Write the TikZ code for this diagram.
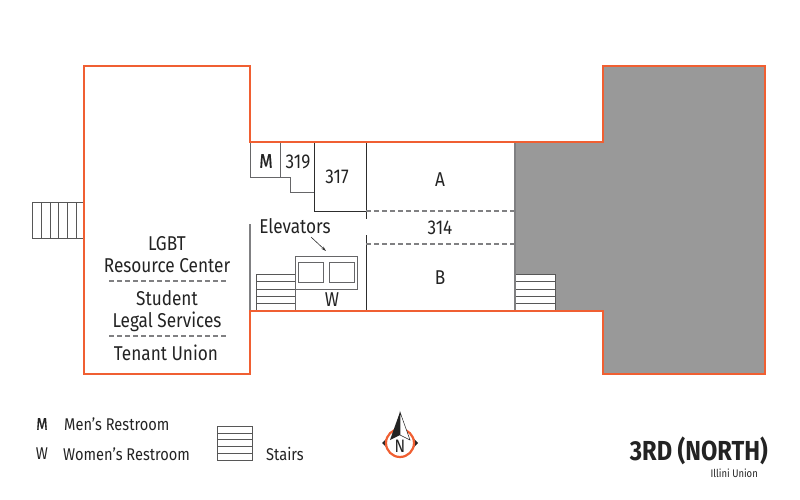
\documentclass[tikz,border=0pt]{standalone}
\usepackage{fontspec}
\setmainfont[FakeStretch=0.86]{Fira Sans}
\newfontfamily\semifont[FakeStretch=0.86,FakeBold=0.6]{Fira Sans}
\usetikzlibrary{arrows.meta}
\definecolor{WallOrange}{RGB}{240,95,50}
\definecolor{WallGrey}{RGB}{128,128,130}
\definecolor{BlockGrey}{RGB}{153,153,153}
\definecolor{RoomLine}{RGB}{45,45,45}
\definecolor{InkDark}{RGB}{35,35,35}
\tikzset{
  outerwall/.style={draw=WallOrange, line width=2.2pt, line join=miter},
  greywall/.style={draw=WallGrey, line width=1.5pt},
  roomline/.style={draw=RoomLine, line width=0.9pt},
  thinroom/.style={draw=WallGrey!80!black, line width=1pt},
  dashline/.style={draw=WallGrey, line width=1.2pt, dash pattern=on 4.5pt off 3.5pt},
  stairline/.style={draw=RoomLine!80!white, line width=0.9pt},
  label/.style={inner sep=0pt, text=InkDark, font=\fontsize{20}{20}\selectfont},
  legendtext/.style={inner sep=0pt, text=InkDark, font=\fontsize{17}{17}\selectfont},
}
\begin{document}
\begin{tikzpicture}[x=1pt, y=-1pt]
    \useasboundingbox (0,0) rectangle (800,500);
    % grey block
    \fill[BlockGrey] (515,142) -- (603,142) -- (603,66) -- (765,66) -- (765,374) -- (603,374) -- (603,311) -- (515,311) -- cycle;
    \draw[greywall] (515,142) -- (515,274);
    % stairs
    \fill[white] (515,274) rectangle (555,311);
    \foreach \y in {274,281.5,289,296,303} {
        \draw[stairline] (515,\y) -- (555,\y);
        \draw[stairline] (256,\y) -- (295,\y);
    }
    \draw[stairline] (256,274) -- (256,311);
    \draw[stairline] (555,274) -- (555,311);
    \draw[greywall] (515,274) -- (515,311);
    \draw[stairline] (32,202) rectangle (84,238);
    \foreach \x in {41,50,58.5,67,76} {
        \draw[stairline] (\x,202) -- (\x,238);
    }
    % rooms
    \draw[thinroom] (250,142) -- (250,177) -- (290,177) -- (290,192) -- (314,192);
    \draw[thinroom] (280,142) -- (280,177);
    \draw[roomline] (314,142) -- (314,211) -- (366,211);
    \draw[roomline] (366,142) -- (366,219);
    \draw[roomline] (366,235) -- (366,311);
    \draw[dashline] (366,211) -- (515,211);
    \draw[dashline] (366,244) -- (515,244);
    \draw[thinroom] (295,256) rectangle (357,289);
    \draw[thinroom] (298,262) rectangle (323,282);
    \draw[thinroom] (329,262) rectangle (354,282);
    \draw[thinroom] (295,289) -- (295,311);
    \draw[dashline] (109,281) -- (226,281);
    \draw[dashline] (109,336) -- (226,336);
    % walls
    \draw[greywall] (250,224) -- (250,311);
    \draw[outerwall] (250,142) -- (250,66) -- (84,66) -- (84,374) -- (250,374) -- (250,311) -- (603,311) -- (603,374) -- (765,374) -- (765,66) -- (603,66) -- (603,142) -- cycle;
    % room names
    \node[label, font=\fontsize{20}{20}\selectfont\semifont] (m) at (266,161) {M};
    \node[label] (r319) at (298,162) {319};
    \node[label] (r317) at (337,177) {317};
    \node[label] (a) at (440,180) {A};
    \node[label] (r314) at (440,228) {314};
    \node[label] (b) at (440,278) {B};
    \node[label] (w) at (332,300) {W};
    \node[label] (elevators) at (295,226) {Elevators};
    \node[label] (lgbt) at (167,244) {LGBT};
    \node[label] (resource) at (167,266) {Resource Center};
    \node[label] (student) at (167,298) {Student};
    \node[label] (legal) at (167,321.5) {Legal Services};
    \node[label] (tenant) at (166,353) {Tenant Union};
    \coordinate (elevfrom) at (311,237);
    \coordinate (elevto) at (326,251);
    \draw[RoomLine, line width=0.6pt, -{Stealth[open, length=5pt, width=3pt]}] (elevfrom) -- (elevto);
    % legend
    \node[legendtext, font=\fontsize{17}{17}\selectfont\semifont] (legm) at (42,424) {M};
    \node[legendtext, anchor=west] (legmen) at (64,424) {Men’s Restroom};
    \node[legendtext] (legw) at (42,454) {W};
    \node[legendtext, anchor=west] (legwomen) at (63,454) {Women’s Restroom};
    \draw[stairline] (217,426) rectangle (252,460);
    \foreach \y in {433,439.5,446.5,453} {
        \draw[stairline] (217,\y) -- (252,\y);
    }
    \node[legendtext, anchor=west] (legstairs) at (266,454) {Stairs};
    % compass
    \fill[InkDark] (382,443) -- (386,439) -- (390,443) -- (386,447) -- cycle;
    \fill[InkDark] (418,443) -- (414,439) -- (410,443) -- (414,447) -- cycle;
    \fill[InkDark] (400,458) -- (396,455) -- (404,455) -- cycle;
    \draw[WallOrange, line width=2.2pt, fill=white] (400,443) circle (14);
    \fill[InkDark] (400,412) -- (390,440) -- (400,435) -- cycle;
    \draw[InkDark, line width=0.5pt, fill=white] (400,412) -- (410,440) -- (400,435) -- cycle;
    \node[inner sep=0pt, text=InkDark, font=\fontsize{18}{18}\selectfont] (north) at (400,446) {N};
    % title
    \node[inner sep=0pt, anchor=east, text=InkDark, font=\fontsize{27.5}{27.5}\selectfont\bfseries] (title) at (768,451) {3RD (NORTH)};
    \node[inner sep=0pt, anchor=east, text=InkDark, font=\fontsize{11}{11}\selectfont] (building) at (758,473) {Illini Union};
\end{tikzpicture}
\end{document}
